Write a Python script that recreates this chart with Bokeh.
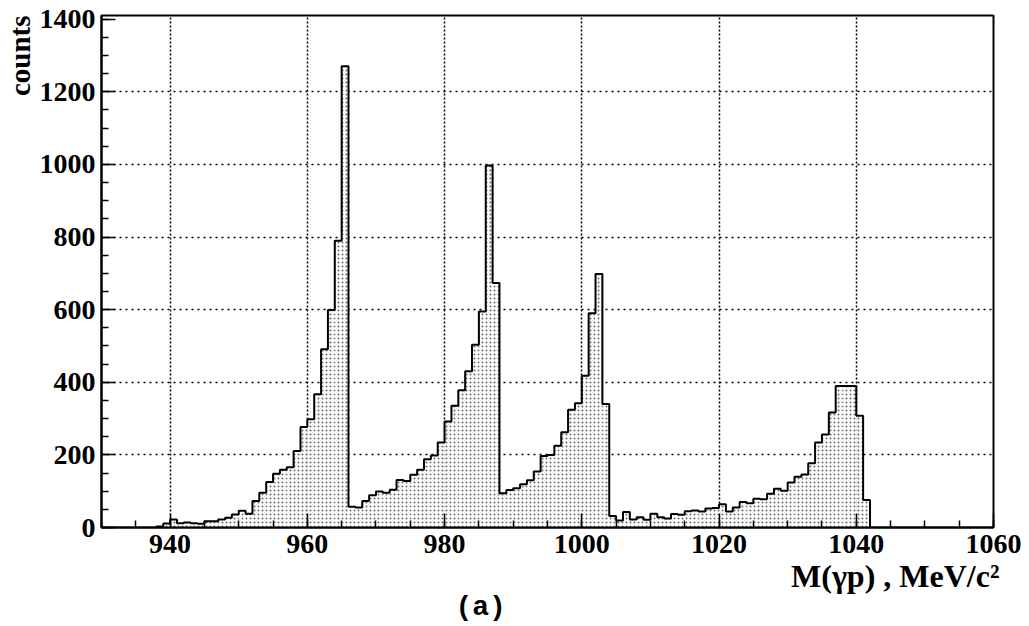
import numpy as np
from bokeh.plotting import figure
from bokeh.models import FixedTicker, Range1d, Title
from bokeh.embed import file_html
from bokeh.resources import INLINE

# ---- data (1 MeV bins, lower edges from 938) ----
bin_first = 938
bin_width = 1
counts = [
    3, 11, 22, 12, 14, 12, 10, 17, 17, 22, 27, 36, 46, 38,          # 938-951
    73, 96, 125, 148, 159, 166, 211, 277, 298, 367, 491, 599, 790, 1270,  # 952-965
    57, 55, 73, 89, 99, 96, 104, 131, 128, 145, 159, 188, 198, 234,  # 966-979
    292, 335, 378, 430, 503, 595, 997, 673,                          # 980-987
    94, 103, 108, 119, 130, 154, 197, 200, 225, 262, 324, 342,       # 988-999
    418, 590, 698, 340,                                              # 1000-1003
    32, 19, 43, 22, 28, 21, 38, 28, 25, 37, 35, 45, 47, 44, 52, 54,  # 1004-1019
    64, 44, 55, 70, 67, 79, 78, 93, 107, 101, 124, 140, 146, 177,    # 1020-1033
    234, 256, 317, 390, 390, 390, 308, 76,                           # 1034-1041
]
x_major = [940, 960, 980, 1000, 1020, 1040, 1060]
y_major = [0, 200, 400, 600, 800, 1000, 1200, 1400]
x_label = "M(γp) , MeV/c²"
y_label = "counts"
panel_tag = "(a)"

counts = np.array(counts, dtype=float)
lo = bin_first + bin_width * np.arange(len(counts))
hi = lo + bin_width
edges = np.append(lo, hi[-1])

p = figure(width=1029, height=626, output_backend="svg", toolbar_location=None,
           x_range=Range1d(930, 1060), y_range=Range1d(0, 1410),
           min_border_left=98, min_border_right=36, min_border_top=15,
           min_border_bottom=99)
p.background_fill_color = "white"
p.border_fill_color = "white"
p.outline_line_color = "black"
p.outline_line_width = 2

# filled histogram with dotted pattern
p.quad(left=lo, right=hi, bottom=0, top=counts, fill_color="white",
       line_color=None, hatch_pattern="dot", hatch_color="#666666",
       hatch_scale=4)

# outline
xs = np.repeat(edges, 2)
ys = np.concatenate([[0], np.repeat(counts, 2), [0]])
p.line(xs, ys, line_color="black", line_width=2)

# axes
for ax, maj, minor in ((p.xaxis, x_major, list(range(930, 1061, 5))),
                       (p.yaxis, y_major, list(range(0, 1411, 50)))):
    ax.ticker = FixedTicker(ticks=maj, minor_ticks=minor)
    ax.major_tick_in = 14
    ax.major_tick_out = 0
    ax.minor_tick_in = 7
    ax.minor_tick_out = 0
    ax.axis_line_width = 2
    ax.major_tick_line_width = 1.5
    ax.minor_tick_line_width = 1.5
    ax.major_label_text_font = "Liberation Serif"
    ax.major_label_text_font_style = "bold"
    ax.major_label_text_font_size = "28px"
    ax.major_label_text_color = "black"
p.xaxis.major_label_standoff = 7
p.yaxis.major_label_standoff = 6

# grid
p.xgrid.ticker = FixedTicker(ticks=x_major[:-1])
p.ygrid.ticker = FixedTicker(ticks=y_major[1:-1])
p.xgrid.grid_line_dash = "2 2"
p.ygrid.grid_line_dash = "2 4"
for g in (p.xgrid, p.ygrid):
    g.grid_line_color = "black"
    g.grid_line_width = 1.5
    g.grid_line_alpha = 1.0

# texts as side titles
p.add_layout(Title(text=x_label, align="right", offset=-6, standoff=0,
                   text_font="Liberation Serif", text_font_style="bold",
                   text_font_size="32px", text_color="black"), "below")
p.add_layout(Title(text=panel_tag, align="left", offset=354, standoff=-7,
                   text_font="Liberation Mono", text_font_style="bold",
                   text_font_size="28px", text_color="black"), "below")
p.add_layout(Title(text=y_label, align="right", offset=0, standoff=2,
                   text_font="Liberation Serif", text_font_style="bold",
                   text_font_size="29px", text_color="black"), "left")

open("out.html", "w").write(file_html(p, INLINE))
